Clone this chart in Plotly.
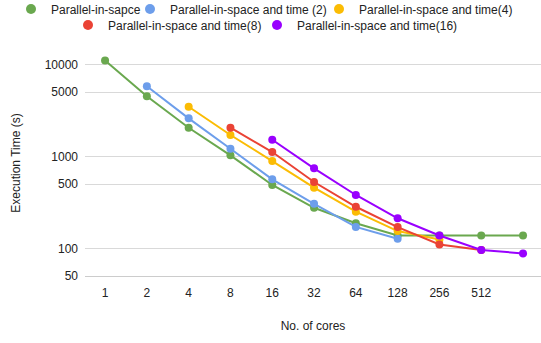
import math
import plotly.graph_objects as go

cores = [1, 2, 4, 8, 16, 32, 64, 128, 256, 512, 1024]
tick_cores = [1, 2, 4, 8, 16, 32, 64, 128, 256, 512]
tick_labels = ["1", "2", "4", "8", "16", "32", "64", "128", "256", "512"]

y_ticks = [50, 100, 500, 1000, 5000, 10000]
y_tick_labels = ["50", "100", "500", "1000", "5000", "10000"]

space = [11000, 4490, 2046, 1025, 488, 276, 187, 138, 138, 138, 138]
time2 = [None, 5770, 2588, 1210, 562, 305, 171, 127, None, None, None]
time4 = [None, None, 3460, 1705, 889, 456, 250, 154, 125, None, None]
time8 = [None, None, None, 2046, 1113, 526, 283, 170, 110, 96, None]
time16 = [None, None, None, None, 1514, 741, 380, 212, 138, 96, 88]

series = [
    ("Parallel-in-sapce", space, "#6aa84f"),
    ("Parallel-in-space and time (2)", time2, "#6d9eeb"),
    ("Parallel-in-space and time(4)", time4, "#fbbc04"),
    ("Parallel-in-space and time(8)", time8, "#ea4335"),
    ("Parallel-in-space and time(16)", time16, "#9900ff"),
]

# legend box left edge (px) and row centre (px)
legend_pos = [(11, 9), (130, 9), (319, 9), (68, 25), (257, 25)]

W, H = 541, 343
fig = go.Figure()
for i, (name, vals, color) in enumerate(series):
    lg = "legend" if i == 0 else f"legend{i + 1}"
    fig.add_trace(go.Scatter(
        x=cores, y=vals, name=name, mode="lines+markers",
        line=dict(color=color, width=2),
        marker=dict(color=color, size=8),
        showlegend=False,
    ))
    fig.add_trace(go.Scatter(
        x=[None], y=[None], name=name, mode="markers",
        marker=dict(color=color, size=10),
        legend=lg, showlegend=True,
    ))

legend_layout = {}
for i, (lx, cy) in enumerate(legend_pos):
    key = "legend" if i == 0 else f"legend{i + 1}"
    legend_layout[key] = dict(
        orientation="h", xref="container", yref="container",
        x=lx / W, xanchor="left",
        y=1 - cy / H, yanchor="middle",
        font=dict(size=12, color="#222222", family="Liberation Sans, Arial, sans-serif"),
        itemwidth=30, bgcolor="rgba(0,0,0,0)", borderwidth=0,
    )

l2 = math.log10(2)
fig.update_layout(
    width=W, height=H,
    margin=dict(l=85, r=0, t=50, b=67, autoexpand=False),
    paper_bgcolor="white", plot_bgcolor="white",
    font=dict(family="Liberation Sans, Arial, sans-serif", size=12, color="#222222"),
    **legend_layout,
)
fig.update_xaxes(
    type="log",
    range=[0 - 0.48 * l2, math.log10(1024) + 0.43 * l2],
    tickvals=tick_cores, ticktext=tick_labels,
    showgrid=False, zeroline=False,
    showline=True, linecolor="#cccccc", linewidth=1,
    ticks="", ticklabelstandoff=6,
    title=dict(text="No. of cores", standoff=22, font=dict(size=12)),
)
fig.update_yaxes(
    type="log",
    range=[math.log10(50), 4.156],
    tickvals=y_ticks, ticktext=y_tick_labels,
    showgrid=True, gridcolor="#d9d9d9", gridwidth=1,
    zeroline=False, showline=False, ticks="",
    ticklabelstandoff=6,
    title=dict(text="Execution Time (s)", standoff=21, font=dict(size=12)),
)

fig.write_html(
    "out.html",
    config={"displayModeBar": False},
    post_script="document.body.style.margin='0';document.body.style.overflow='hidden';",
)
